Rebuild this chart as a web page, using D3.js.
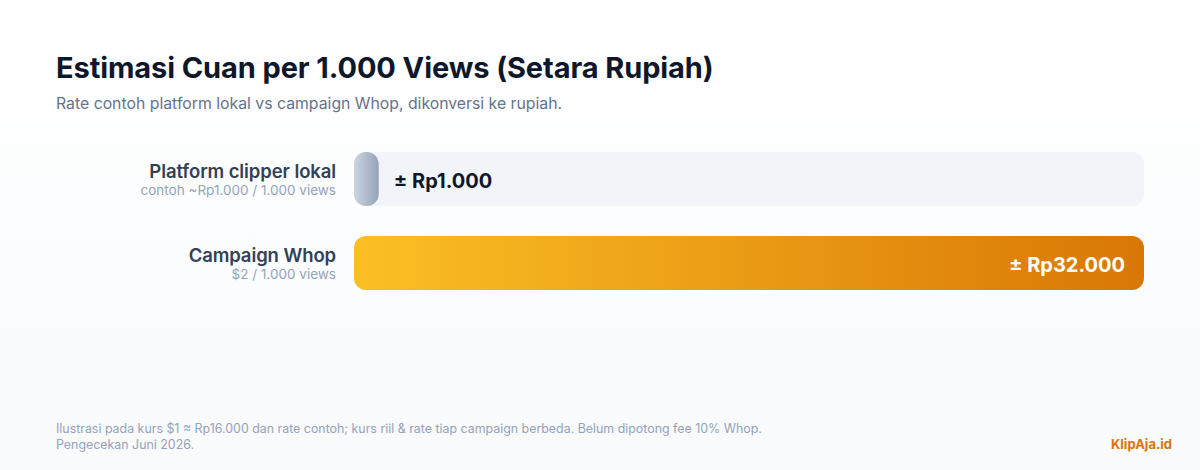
<!DOCTYPE html>
<html><head><meta charset="utf-8">
<script src="https://cdn.jsdelivr.net/npm/d3@7"></script>
<style>
html,body{margin:0;padding:0;background:#fff;}
svg{display:block;font-family:"Inter","Noto Sans",sans-serif;}
</style></head>
<body>
<svg id="chart" width="1200" height="470"></svg>
<script>
const categories = ["Platform clipper lokal", "Campaign Whop"];
const subLabels = ["contoh ~Rp1.000 / 1.000 views", "$2 / 1.000 views"];
const values = [1000, 32000];
const valueLabels = ["± Rp1.000", "± Rp32.000"];
const title = "Estimasi Cuan per 1.000 Views (Setara Rupiah)";
const subtitle = "Rate contoh platform lokal vs campaign Whop, dikonversi ke rupiah.";
const footnotes = ["Ilustrasi pada kurs $1 ≈ Rp16.000 dan rate contoh; kurs riil & rate tiap campaign berbeda. Belum dipotong fee 10% Whop.", "Pengecekan Juni 2026."];
const brand = "KlipAja.id";

const W = 1200, H = 470;
const svg = d3.select("#chart");
const defs = svg.append("defs");

const bg = defs.append("linearGradient").attr("id","bg").attr("x1",0).attr("y1",0).attr("x2",0).attr("y2",1);
bg.append("stop").attr("offset","0%").attr("stop-color","#ffffff");
bg.append("stop").attr("offset","100%").attr("stop-color","#f8fafc");
svg.append("rect").attr("width",W).attr("height",H).attr("fill","url(#bg)");

const g1 = defs.append("linearGradient").attr("id","gGray");
g1.append("stop").attr("offset","0%").attr("stop-color","#cbd5e1");
g1.append("stop").attr("offset","100%").attr("stop-color","#94a3b8");
const g2 = defs.append("linearGradient").attr("id","gOrange");
g2.append("stop").attr("offset","0%").attr("stop-color","#fbbf24");
g2.append("stop").attr("offset","100%").attr("stop-color","#d97706");
const fills = ["url(#gGray)","url(#gOrange)"];

svg.append("text").attr("x",56).attr("y",78).attr("font-size",29).attr("font-weight",700)
  .attr("fill","#0f172a").attr("letter-spacing","-0.1").text(title);
svg.append("text").attr("x",56).attr("y",109).attr("font-size",15.8).attr("fill","#64748b").text(subtitle);

const x = d3.scaleLinear().domain([0, d3.max(values)]).range([354, 1144]);
const y = d3.scaleBand().domain(categories).range([152, 290]).paddingInner(30/84).paddingOuter(0);
const bh = y.bandwidth();

const rows = svg.selectAll("g.row").data(categories).join("g").attr("class","row");
rows.append("rect").attr("x",x(0)).attr("y",d=>y(d)).attr("width",x.range()[1]-x(0)).attr("height",bh)
  .attr("rx",12).attr("fill","#f1f5f9");
rows.append("rect").attr("x",x(0)).attr("y",d=>y(d)).attr("width",(d,i)=>x(values[i])-x(0)).attr("height",bh)
  .attr("rx",12).attr("fill",(d,i)=>fills[i]);
rows.append("text").attr("x",336).attr("y",d=>y(d)+26).attr("text-anchor","end")
  .attr("font-size",18.5).attr("font-weight",600).attr("fill","#334155").attr("letter-spacing","-0.1").text(d=>d);
rows.append("text").attr("x",336).attr("y",d=>y(d)+43).attr("text-anchor","end")
  .attr("font-size",13.5).attr("fill","#94a3b8").text((d,i)=>subLabels[i]);
rows.append("text")
  .attr("x",(d,i)=> i===1 ? x(values[i]) - 19 : x(values[i]) + 15)
  .attr("y",d=>y(d)+bh/2+9)
  .attr("text-anchor",(d,i)=> i===1 ? "end" : "start")
  .attr("font-size",20).attr("font-weight",700)
  .attr("fill",(d,i)=> i===1 ? "#ffffff" : "#0f172a")
  .text((d,i)=>valueLabels[i]);

svg.selectAll("text.foot").data(footnotes).join("text").attr("class","foot")
  .attr("x",56).attr("y",(d,i)=>433+i*16).attr("font-size",12.4).attr("fill","#94a3b8").text(d=>d);
svg.append("text").attr("x",1172).attr("y",449).attr("text-anchor","end").attr("font-size",13)
  .attr("font-weight",700).attr("fill","#d97706").text(brand);
</script>
</body></html>
